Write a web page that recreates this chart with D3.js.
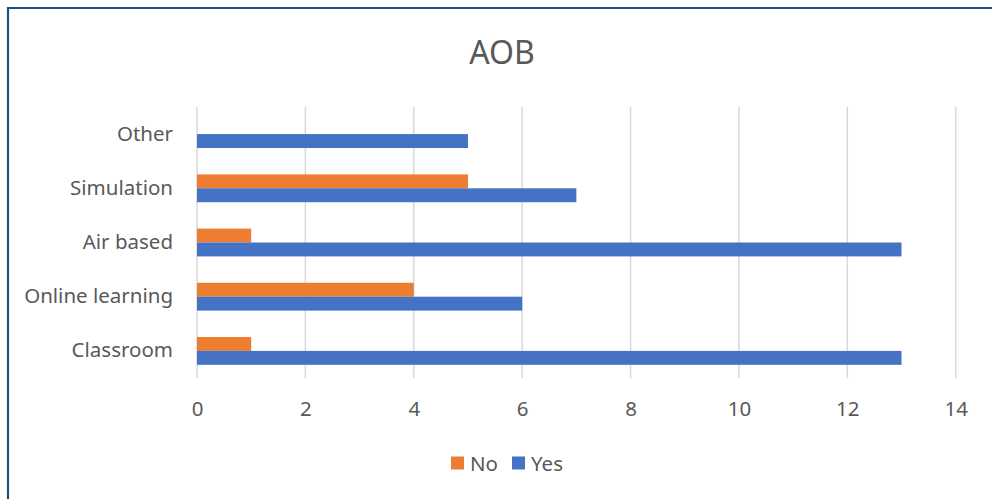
<!DOCTYPE html>
<html>
<head>
<meta charset="utf-8">
<script src="https://cdn.jsdelivr.net/npm/d3@7"></script>
<style>
  html, body { margin: 0; padding: 0; background: #fff; }
  svg { display: block; }
  text { font-family: "Noto Sans", "Open Sans", sans-serif; fill: #595959; }
</style>
</head>
<body>
<script>
// Training methods, top to bottom
const categories = ["Other", "Simulation", "Air based", "Online learning", "Classroom"];
const seriesNames = ["No", "Yes"];
const noValues  = [0, 5, 1, 4, 1];
const yesValues = [5, 7, 13, 6, 13];
const xTicks = [0, 2, 4, 6, 8, 10, 12, 14];
const chartTitle = "AOB";

const colors = { No: "#ED7D31", Yes: "#4472C4" };

const W = 992, H = 499;
const svg = d3.select("body").append("svg").attr("width", W).attr("height", H);

// chart frame
svg.append("path")
  .attr("d", `M8,${H} L8,8 L${W},8`)
  .attr("fill", "none")
  .attr("stroke", "#1F4E79")
  .attr("stroke-width", 2.2);

const plot = { left: 197, right: 955.7, top: 107, bottom: 378 };

const x = d3.scaleLinear().domain([0, 14]).range([plot.left, plot.right]);
const y = d3.scaleBand().domain(categories).range([plot.top, plot.bottom])
  .paddingInner(0.487).paddingOuter(0.2435);
const ySub = d3.scaleBand().domain(seriesNames).range([0, y.bandwidth()]);

// vertical gridlines
svg.append("g").selectAll("line").data(xTicks).join("line")
  .attr("x1", d => x(d)).attr("x2", d => x(d))
  .attr("y1", plot.top).attr("y2", plot.bottom)
  .attr("stroke", "#D9D9D9").attr("stroke-width", 1.5);

const rows = categories.map((c, i) => ({ cat: c, No: noValues[i], Yes: yesValues[i] }));

const groups = svg.append("g").selectAll("g").data(rows).join("g")
  .attr("transform", d => `translate(0,${y(d.cat)})`);

groups.selectAll("rect")
  .data(d => seriesNames.map(s => ({ s, v: d[s] })).filter(e => e.v > 0))
  .join("rect")
  .attr("x", x(0))
  .attr("y", e => ySub(e.s))
  .attr("width", e => x(e.v) - x(0))
  .attr("height", ySub.bandwidth())
  .attr("fill", e => colors[e.s]);

// category labels
svg.append("g").selectAll("text").data(categories).join("text")
  .attr("x", 173)
  .attr("y", c => y(c) + y.bandwidth() / 2 - 1.5)
  .attr("text-anchor", "end")
  .attr("dominant-baseline", "central")
  .attr("font-size", 20.5)
  .text(c => c);

// value axis labels
const xAxis = d3.axisBottom(x).tickValues(xTicks).tickSize(0).tickPadding(0);
const gx = svg.append("g").attr("transform", `translate(0,${plot.bottom})`).call(xAxis);
gx.select(".domain").remove();
gx.selectAll("text")
  .attr("y", 31)
  .attr("dy", "0.35em")
  .attr("font-size", 20.5)
  .attr("font-family", null)
  .attr("fill", null);

// title
svg.append("text")
  .attr("x", 502).attr("y", 51)
  .attr("text-anchor", "middle")
  .attr("dominant-baseline", "central")
  .attr("font-size", 32)
  .text(chartTitle);

// legend
const legend = svg.append("g").attr("transform", "translate(451,463)");
const legendX = { No: 0, Yes: 61 };
seriesNames.forEach(s => {
  const g = legend.append("g").attr("transform", `translate(${legendX[s]},0)`);
  g.append("rect").attr("x", 0).attr("y", -6.5).attr("width", 13).attr("height", 13).attr("fill", colors[s]);
  g.append("text").attr("x", 19).attr("y", 0).attr("dominant-baseline", "central")
    .attr("font-size", 20.5).text(s);
});
</script>
</body>
</html>
